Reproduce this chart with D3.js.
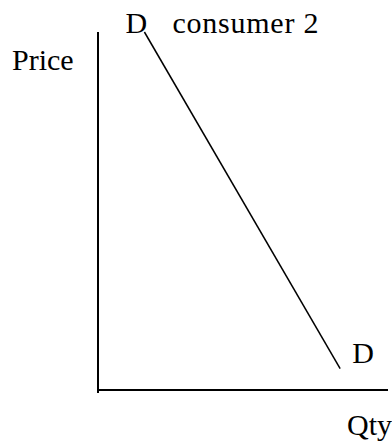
<!DOCTYPE html>
<html>
<head>
<meta charset="utf-8">
<script src="https://cdn.jsdelivr.net/npm/d3@7"></script>
<style>
  body { margin: 0; background: #fff; }
  text { font-family: "Liberation Serif", "Times New Roman", serif; font-size: 30px; fill: #000; }
</style>
</head>
<body>
<div id="d3-container"></div>
<script>
/**
 * CONSTANTS AND DATA
 * */
const width = 392,
  height = 443,
  margin = { top: 32, bottom: 53, left: 98, right: 4 };

// demand curve for consumer 2 (qty, price) in 0-100 units
const demandQty = [16, 83.5];
const demandPrice = [100, 6];
const demand = demandQty.map((q, i) => ({ qty: q, price: demandPrice[i] }));

const axisLabels = { x: "Qty", y: "Price" };
const curveLabel = "D";
const curveTitle = "consumer 2";

const svg = d3.select("#d3-container")
  .append("svg")
  .attr("width", width)
  .attr("height", height);

const x = d3.scaleLinear([0, 100], [margin.left, width - margin.right]);
const y = d3.scaleLinear([0, 100], [height - margin.bottom, margin.top]);

// axes, drawn as plain lines (no ticks)
svg.append("line")
  .attr("x1", x(0)).attr("x2", x(0))
  .attr("y1", y(100)).attr("y2", y(0) + 3)
  .attr("stroke", "black")
  .attr("stroke-width", 2);

svg.append("line")
  .attr("x1", x(0) - 1).attr("x2", x(100))
  .attr("y1", y(0)).attr("y2", y(0))
  .attr("stroke", "black")
  .attr("stroke-width", 2);

// demand line
const line = d3.line()
  .x(d => x(d.qty))
  .y(d => y(d.price));

svg.append("path")
  .datum(demand)
  .attr("d", line)
  .attr("fill", "none")
  .attr("stroke", "black")
  .attr("stroke-width", 1.5);

// labels
svg.append("text")
  .attr("x", 12).attr("y", 70)
  .text(axisLabels.y);

svg.append("text")
  .attr("x", 347).attr("y", 435)
  .text(axisLabels.x);

const first = demand[0], last = demand[demand.length - 1];

svg.append("text")
  .attr("x", x(first.qty) - 19).attr("y", y(first.price) + 1)
  .text(curveLabel);

// the title is spaced a little wider in the original
svg.append("text")
  .attr("x", x(first.qty) + 28).attr("y", y(first.price) + 1)
  .attr("textLength", 146)
  .attr("lengthAdjust", "spacing")
  .text(curveTitle);

svg.append("text")
  .attr("x", x(last.qty) + 12).attr("y", y(last.price) - 6)
  .text(curveLabel);
</script>
</body>
</html>
